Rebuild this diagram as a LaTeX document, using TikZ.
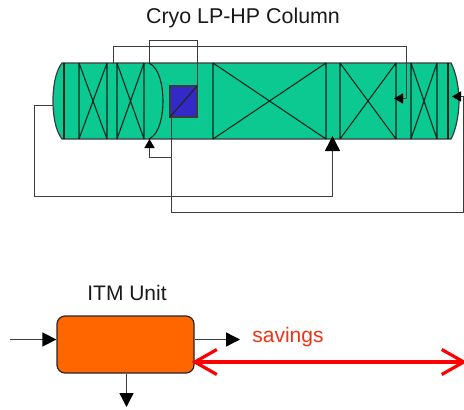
\documentclass[tikz,border=0pt]{standalone}
\usepackage{fontspec}
\setmainfont{Liberation Sans}
\usetikzlibrary{arrows.meta}
\definecolor{colgreen}{RGB}{12,200,145}
\definecolor{hxblue}{RGB}{51,40,200}
\definecolor{itmorange}{RGB}{255,102,0}
\definecolor{linegray}{RGB}{60,60,60}
\definecolor{savered}{RGB}{240,50,20}
\tikzset{
  pipe/.style={draw=linegray,line width=1.4pt},
  sect/.style={draw=black!80!colgreen,line width=1.1pt},
  smalltip/.style={-{Triangle[length=9pt,width=10pt,color=black]}},
  bigtip/.style={-{Triangle[length=15pt,width=15pt,color=black]}},
  midtip/.style={-{Triangle[length=14pt,width=14pt,color=black]}},
  label/.style={font=\fontsize{21}{24}\selectfont,inner sep=0pt,text=black!90},
  saveline/.style={draw=red,line width=3.2pt,shorten <=-3pt,shorten >=-3pt,{Straight Barb[length=22pt,width=25pt,color=red]}-{Straight Barb[length=22pt,width=25pt,color=red]}},
}
\newcommand{\secbed}[2]{%
  \draw[sect] (#1,63) -- (#1,139) (#2,63) -- (#2,139) (#1,63) -- (#2,139) (#1,139) -- (#2,63);}
\begin{document}
\begin{tikzpicture}[x=1pt,y=-1pt]
\useasboundingbox (0,0) rectangle (464,410);
\node[label,font=\fontsize{21.4}{24}\selectfont] (title) at (243,17.5) {Cryo LP-HP Column};
% column shell
\draw[fill=colgreen,draw=linegray,line width=1.2pt]
  (62,63) .. controls (55,72) and (53,88) .. (53,101)
  .. controls (53,114) and (55,130) .. (62,139)
  -- (451,139) .. controls (456,130) and (459,114) .. (459,101)
  .. controls (459,88) and (456,72) .. (451,63) -- cycle;
\draw[sect] (64,63) -- (64,139) (448,63) -- (448,139);
\secbed{79}{107}
\secbed{117}{144}
\secbed{213}{326}
\secbed{340}{396}
\secbed{411}{437}
\draw[sect] (149,63) .. controls (160,68) and (163,88) .. (163,101)
  .. controls (163,114) and (160,134) .. (149,139);
\node[draw=linegray,line width=1.2pt,fill=hxblue,minimum width=27pt,minimum height=31pt,inner sep=0pt] (hx) at (183.5,101.5) {};
\draw[draw=black!85,line width=1.2pt] (hx.south west) -- (hx.north east);
% named connector ends
\coordinate (c1a) at (113.5,63);
\coordinate (c1b) at (394,98.5);
\coordinate (c2a) at (149.5,63);
\coordinate (leftcap) at (53,105.5);
\coordinate (midin) at (332.5,136);
\coordinate (rightin) at (452,96.5);
\coordinate (lowin) at (149.5,139);
\coordinate (tee) at (171.5,157.5);
% connectors
\draw[pipe] (c1a) -- (113.5,46.5) -- (406.5,46.5) -- (406.5,98.5);
\draw[pipe,smalltip] (406.5,98.5) -- (c1b);
\draw[pipe] (c2a) -- (149.5,40.5) -- (197.5,40.5) -- (197.5,86);
\draw[pipe,bigtip] (leftcap) -- (34.5,105.5) -- (34.5,196.5) -- (332.5,196.5) -- (midin);
\draw[pipe,smalltip] (171.5,117) -- (171.5,212.5) -- (463.5,212.5) -- (463.5,96.5) -- (rightin);
\draw[pipe,smalltip] (tee) -- (149.5,157.5) -- (lowin);
% ITM
\node[label] (itmlabel) at (127,293) {ITM Unit};
\node[draw=black!85,line width=1.2pt,fill=itmorange,rounded corners=8pt,minimum width=137pt,minimum height=57pt,inner sep=0pt] (itm) at (125.5,344.5) {};
\coordinate (itmin) at (10,339.5);
\coordinate (itmout) at (240,339.5);
\coordinate (itmdown) at (126.5,407);
\draw[pipe,midtip] (itmin) -- (itm.west |- itmin);
\draw[pipe,midtip] (itm.east |- itmout) -- (itmout);
\draw[pipe,midtip] (itmdown |- itm.south) -- (itmdown);
\node[label,text=savered] (sav) at (288,337.5) {savings};
\coordinate (saveend) at (464,362);
\draw[saveline] (itm.east |- saveend) -- (saveend);
\end{tikzpicture}
\end{document}
